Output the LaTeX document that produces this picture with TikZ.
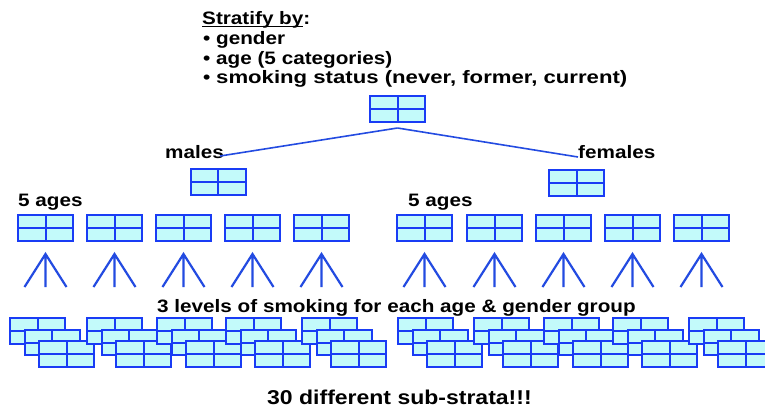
\documentclass[tikz,border=0pt]{standalone}
\usepackage{fontspec}
\setmainfont{Liberation Sans}[FakeStretch=1.15]
\definecolor{boxblue}{RGB}{25,60,245}
\definecolor{boxfill}{RGB}{195,250,250}
\definecolor{treeblue}{RGB}{35,75,225}
\newcommand\ulin[1]{\setbox0\hbox{#1}\rlap{\rule[-3pt]{\wd0}{1.4pt}}\box0}
\begin{document}
\begin{tikzpicture}
      [x=1pt,y=-1pt
      ,cell/.style={draw=boxblue,fill=boxfill,line width=2pt,minimum width=55pt,minimum height=26pt,inner sep=0pt
         ,path picture={\draw[boxblue,line width=2pt]
            (path picture bounding box.north) -- (path picture bounding box.south)
            (path picture bounding box.west) -- (path picture bounding box.east);}}
      ,lbl/.style={font=\fontsize{18}{20}\selectfont\bfseries,inner sep=0pt,anchor=base west}
      ,lin/.style={color=treeblue,line width=1.6pt}
      ,fork/.style={color=treeblue,line width=2.2pt}
      ]
        \useasboundingbox (0,0) rectangle (765,410);
        \node[lbl] (title) at (202,24) {\ulin{Stratify by}:};
        \node[lbl] (b1) at (203,44) {\makebox[13pt][l]{\textbullet}gender};
        \node[lbl] (b2) at (203,64) {\makebox[13pt][l]{\textbullet}age (5 categories)};
        \node[lbl] (b3) at (203,83) {\makebox[13pt][l]{\textbullet}\scalebox{1.07}[1]{smoking status (never, former, current)}};

        \node[cell] (top) at (397.5,109) {};
        \node[lbl] (males) at (165,158) {males};
        \node[lbl] (females) at (578,158) {females};
        \draw[lin] ([yshift=-5pt]top.south) -- ([xshift=-4pt,yshift=2pt]males.base east);
        \draw[lin] ([yshift=-5pt]top.south) -- ([yshift=1pt]females.base west);
        \node[cell] (mbox) at (218,181.5) {};
        \node[cell] (fbox) at (576.5,183) {};

        \node[lbl] (agesm) at (18,206) {5 ages};
        \node[lbl] (agesf) at (408,206) {5 ages};
        \foreach \x [count=\i] in {45.5,114.5,183.5,252.5,321.5,424.5,494.5,563.5,632.5,701.5}{
          \node[cell] (age\i) at (\x,227.5) {};
          \coordinate (ap\i) at (\x,254);
          \draw[fork] (\x-21,287) -- (ap\i) -- (\x+21,287) (ap\i) -- (\x,287);
        }

        \node[lbl] (smk) at (157,312) {3 levels of smoking for each age \& gender group};
        \foreach \x [count=\i] in {9,86,156,225,301,397,473,543,612,688}{
          \foreach \k in {0,1,2}{
            \node[cell,minimum height=25.5pt] (st\i-\k) at (\x+28.5+14.5*\k,330.8+11.7*\k) {};
          }
        }

        \node[lbl,font=\fontsize{20}{22}\selectfont\bfseries] (total) at (267,404) {30 different sub-strata!!!};
      \end{tikzpicture}
\end{document}
